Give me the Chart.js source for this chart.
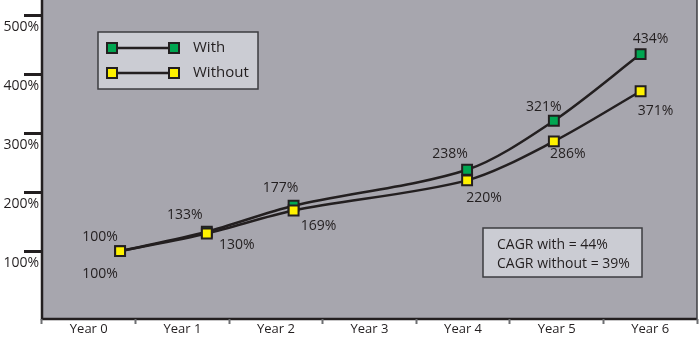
<!DOCTYPE html>
<html>
<head>
<meta charset="utf-8">
<script src="https://cdn.jsdelivr.net/npm/chart.js@4"></script>
<style>
  html, body { margin: 0; padding: 0; background: #fff; }
</style>
</head>
<body>
<canvas id="growthChart" width="700" height="337"></canvas>
<script>
const years = ['Year 0', 'Year 1', 'Year 2', 'Year 3', 'Year 4', 'Year 5', 'Year 6']
// index into years; Year 3 has no reading
const withValues = [100, 133, 177, null, 238, 321, 434]
const withoutValues = [100, 130, 169, null, 220, 286, 371]
const yTicks = [100, 200, 300, 400, 500]
const seriesNames = ['With', 'Without']
const cagrLines = ['CAGR with = 44%', 'CAGR without = 39%']

const ink = '#231f20'
const green = '#00a651'
const yellow = '#fff200'
const fontFamily = '"Open Sans", "Noto Sans", sans-serif'

// where each value label sits relative to its marker
const withLabelOffsets = [[-20, -14], [-22, -17], [-13, -18], null, [-17, -16], [-10, -14], [10, -15]]
const withoutLabelOffsets = [[-20, 23], [30, 12], [25, 16], null, [17, 18], [14, 13], [15, 20]]

function toPoints(values) {
  return values.map((v, i) => ({ x: i, y: v }))
}

const plotFrame = {
  id: 'plotFrame',
  beforeDraw(chart) {
    const { ctx, chartArea: a } = chart
    ctx.save()
    ctx.fillStyle = '#a7a6ae'
    ctx.fillRect(a.left, 0, a.right - a.left, a.bottom)
    ctx.strokeStyle = ink
    ctx.lineWidth = 2.5
    ctx.beginPath()
    ctx.moveTo(a.left, 0)
    ctx.lineTo(a.left, a.bottom)
    ctx.lineTo(a.right, a.bottom)
    ctx.stroke()
    ctx.strokeStyle = '#3d3d40'
    ctx.lineWidth = 1.5
    ctx.beginPath()
    ctx.moveTo(a.right, 0)
    ctx.lineTo(a.right, a.bottom)
    ctx.stroke()
    ctx.restore()
  }
}

const valueLabels = {
  id: 'valueLabels',
  afterDatasetsDraw(chart) {
    const { ctx } = chart
    const sets = [[withValues, withLabelOffsets, 0], [withoutValues, withoutLabelOffsets, 1]]
    ctx.save()
    ctx.font = '14px ' + fontFamily
    ctx.fillStyle = ink
    ctx.textAlign = 'center'
    ctx.textBaseline = 'middle'
    sets.forEach(([values, offsets, idx]) => {
      const meta = chart.getDatasetMeta(idx)
      values.forEach((v, i) => {
        if (v === null) return
        const pt = meta.data[i]
        ctx.fillText(v + '%', pt.x + offsets[i][0], pt.y + offsets[i][1])
      })
    })
    ctx.restore()
  }
}

function drawMarker(ctx, x, y, color) {
  ctx.fillStyle = color
  ctx.fillRect(x - 5, y - 5, 10, 10)
  ctx.strokeStyle = ink
  ctx.lineWidth = 2
  ctx.strokeRect(x - 5, y - 5, 10, 10)
}

const boxes = {
  id: 'boxes',
  afterDraw(chart) {
    const { ctx } = chart
    ctx.save()

    // series key
    ctx.fillStyle = '#cbccd3'
    ctx.fillRect(98, 32, 160, 57)
    ctx.strokeStyle = '#3d3d40'
    ctx.lineWidth = 1.5
    ctx.strokeRect(98, 32, 160, 57)
    const colors = [green, yellow]
    seriesNames.forEach((name, i) => {
      const y = 48 + i * 25
      ctx.strokeStyle = ink
      ctx.lineWidth = 2.5
      ctx.beginPath()
      ctx.moveTo(112, y)
      ctx.lineTo(174, y)
      ctx.stroke()
      drawMarker(ctx, 112, y, colors[i])
      drawMarker(ctx, 174, y, colors[i])
      ctx.fillStyle = ink
      ctx.font = '15px ' + fontFamily
      ctx.textAlign = 'left'
      ctx.textBaseline = 'middle'
      ctx.fillText(name, 193, y)
    })

    // growth rate note
    ctx.fillStyle = '#cbccd3'
    ctx.fillRect(483, 228, 159, 49)
    ctx.strokeStyle = '#3d3d40'
    ctx.lineWidth = 1.5
    ctx.strokeRect(483, 228, 159, 49)
    ctx.fillStyle = ink
    ctx.font = '14px ' + fontFamily
    ctx.textAlign = 'left'
    ctx.textBaseline = 'middle'
    cagrLines.forEach((line, i) => ctx.fillText(line, 497, 245 + i * 19))

    ctx.restore()
  }
}

const lineStyle = {
  xAxisID: 'xd',
  yAxisID: 'y',
  borderColor: ink,
  borderWidth: 2.5,
  pointStyle: 'rect',
  pointRadius: 7,
  pointBorderColor: ink,
  pointBorderWidth: 2,
  tension: 0.3,
  spanGaps: true,
  fill: false
}

new Chart(document.getElementById('growthChart'), {
  type: 'line',
  data: {
    datasets: [
      Object.assign({}, lineStyle, {
        label: seriesNames[0],
        data: toPoints(withValues),
        backgroundColor: green,
        pointBackgroundColor: green,
        order: 1
      }),
      Object.assign({}, lineStyle, {
        label: seriesNames[1],
        data: toPoints(withoutValues),
        backgroundColor: yellow,
        pointBackgroundColor: yellow,
        order: 0
      })
    ]
  },
  options: {
    responsive: false,
    animation: false,
    layout: { autoPadding: false, padding: { top: 1, right: 3, left: 0, bottom: 0 } },
    plugins: {
      legend: { display: false },
      tooltip: { enabled: false }
    },
    scales: {
      x: {
        type: 'category',
        labels: years,
        offset: true,
        border: { display: false },
        grid: {
          offset: true,
          drawOnChartArea: false,
          drawTicks: true,
          tickLength: 5,
          tickWidth: 2,
          tickColor: '#6d6e71'
        },
        ticks: {
          padding: -3,
          color: ink,
          font: { family: fontFamily, size: 13 },
          maxRotation: 0
        },
        afterFit(scale) {
          scale.height = 18
        }
      },
      xd: {
        type: 'linear',
        display: false,
        min: -0.9,
        max: 6.65
      },
      y: {
        type: 'linear',
        min: -15,
        max: 524,
        border: { display: false },
        afterBuildTicks(scale) {
          scale.ticks = yTicks.map(v => ({ value: v }))
        },
        grid: {
          drawOnChartArea: false,
          drawTicks: true,
          tickLength: 18,
          tickWidth: 3,
          tickColor: ink
        },
        ticks: {
          padding: -15,
          labelOffset: 12,
          color: ink,
          font: { family: fontFamily, size: 14 },
          callback: v => v + '%'
        },
        afterFit(scale) {
          scale.width = 42
        }
      }
    }
  },
  plugins: [plotFrame, valueLabels, boxes]
})
</script>
</body>
</html>
